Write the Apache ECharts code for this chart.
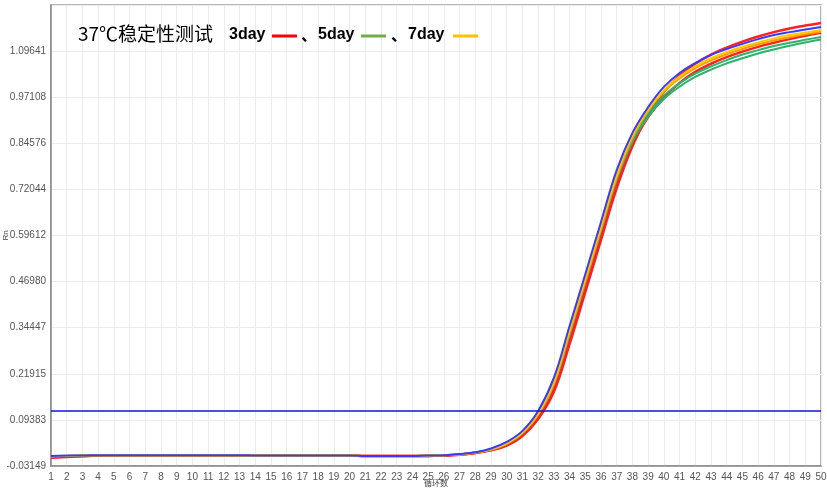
<!DOCTYPE html>
<html>
<head>
<meta charset="utf-8">
<script src="https://cdn.jsdelivr.net/npm/echarts@6/dist/echarts.min.js"></script>
<style>
html,body{margin:0;padding:0;background:#fff;}
#c{width:827px;height:491px;}
</style>
</head>
<body>
<div id="c"></div>
<script>
const cycles = ['1','2','3','4','5','6','7','8','9','10','11','12','13','14','15','16','17','18','19','20','21','22','23','24','25','26','27','28','29','30','31','32','33','34','35','36','37','38','39','40','41','42','43','44','45','46','47','48','49','50'];
const yTickLabels = ['-0.03149','0.09383','0.21915','0.34447','0.46980','0.59612','0.72044','0.84576','0.97108','1.09641',''];
const threshold = 0.118;

const red1 = [-0.009,-0.007,-0.005,-0.003,-0.002,-0.002,-0.002,-0.002,-0.002,-0.002,-0.002,-0.002,-0.002,-0.003,-0.003,-0.003,-0.003,-0.003,-0.003,-0.003,-0.004,-0.004,-0.004,-0.004,-0.004,-0.003,-0.001,0.004,0.011,0.024,0.050,0.096,0.170,0.300,0.441,0.583,0.724,0.838,0.923,0.985,1.030,1.062,1.087,1.106,1.122,1.136,1.148,1.158,1.166,1.173];
const red2 = [-0.008,-0.006,-0.004,-0.003,-0.002,-0.002,-0.002,-0.002,-0.002,-0.002,-0.002,-0.002,-0.002,-0.003,-0.003,-0.003,-0.003,-0.003,-0.003,-0.003,-0.004,-0.004,-0.004,-0.004,-0.004,-0.003,-0.001,0.004,0.012,0.026,0.053,0.100,0.178,0.310,0.452,0.594,0.733,0.842,0.917,0.970,1.010,1.040,1.062,1.080,1.095,1.108,1.119,1.129,1.138,1.146];
const blue = [-0.004,-0.003,-0.003,-0.002,-0.002,-0.002,-0.002,-0.002,-0.002,-0.002,-0.002,-0.002,-0.002,-0.003,-0.003,-0.003,-0.003,-0.003,-0.003,-0.003,-0.004,-0.004,-0.004,-0.004,-0.003,-0.002,0.001,0.006,0.016,0.034,0.064,0.118,0.208,0.349,0.490,0.632,0.773,0.874,0.944,0.999,1.037,1.064,1.086,1.102,1.116,1.129,1.140,1.148,1.155,1.162];
const orange = [-0.005,-0.004,-0.003,-0.002,-0.002,-0.002,-0.002,-0.002,-0.002,-0.002,-0.002,-0.002,-0.002,-0.003,-0.003,-0.003,-0.003,-0.003,-0.003,-0.003,-0.004,-0.004,-0.004,-0.004,-0.003,-0.002,0.000,0.005,0.013,0.029,0.058,0.108,0.192,0.330,0.470,0.612,0.752,0.860,0.934,0.986,1.022,1.050,1.071,1.088,1.102,1.115,1.125,1.134,1.142,1.149];
const yellow = [-0.005,-0.004,-0.003,-0.002,-0.002,-0.002,-0.002,-0.002,-0.002,-0.002,-0.002,-0.002,-0.002,-0.003,-0.003,-0.003,-0.003,-0.003,-0.003,-0.003,-0.004,-0.004,-0.004,-0.004,-0.003,-0.002,0.000,0.005,0.014,0.030,0.060,0.112,0.198,0.338,0.478,0.620,0.760,0.866,0.938,0.990,1.027,1.055,1.077,1.094,1.108,1.120,1.131,1.140,1.147,1.154];
const green1 = [-0.005,-0.004,-0.003,-0.002,-0.002,-0.002,-0.002,-0.002,-0.002,-0.002,-0.002,-0.002,-0.002,-0.003,-0.003,-0.003,-0.003,-0.003,-0.003,-0.003,-0.004,-0.004,-0.004,-0.004,-0.003,-0.002,0.000,0.005,0.013,0.029,0.057,0.107,0.189,0.325,0.466,0.607,0.746,0.850,0.918,0.966,1.000,1.026,1.046,1.063,1.077,1.090,1.101,1.111,1.120,1.128];
const green2 = [-0.005,-0.004,-0.003,-0.002,-0.002,-0.002,-0.002,-0.002,-0.002,-0.002,-0.002,-0.002,-0.002,-0.003,-0.003,-0.003,-0.003,-0.003,-0.003,-0.003,-0.004,-0.004,-0.004,-0.004,-0.003,-0.002,0.000,0.005,0.013,0.029,0.058,0.109,0.193,0.331,0.472,0.614,0.752,0.856,0.926,0.975,1.009,1.035,1.055,1.072,1.087,1.099,1.110,1.119,1.127,1.135];

const yMin = -0.03149, yInt = 0.12532, yMax = yMin + 10 * yInt;

function line(name, data, color, w) {
  return { name: name, type: 'line', data: data, symbol: 'none', smooth: 0.4,
    lineStyle: { color: color, width: w || 2 }, itemStyle: { color: color }, z: 3, silent: true, animation: false };
}

const chart = echarts.init(document.getElementById('c'));
const series = [
  line('red1', red1, '#ff2020', 2.5),
  line('red2', red2, '#ff2020', 2.5),
  line('green1', green1, '#2db36b'),
  line('green2', green2, '#2db36b'),
  line('orange', orange, '#ff9a00'),
  line('yellow', yellow, '#ffc800'),
  line('blue', blue, '#3a3aff')
];
series.push({
  type: 'line', data: [], symbol: 'none', silent: true, animation: false,
  markLine: { symbol: 'none', silent: true, animation: false, label: { show: false },
    lineStyle: { color: '#1010e0', width: 1.5, type: 'solid' },
    data: [{ yAxis: threshold }] }
});

const txtZ = 100;
chart.setOption({
  animation: false,
  backgroundColor: '#fff',
  grid: { left: 51, right: 6, top: 5, bottom: 25, containLabel: false, outerBoundsMode: 'none',
    show: true, borderColor: '#a0a0a0', borderWidth: 1.5, backgroundColor: 'transparent' },
  xAxis: {
    type: 'category', data: cycles, boundaryGap: false,
    name: '循环数', nameLocation: 'middle', nameGap: 13, nameMoveOverlap: false,
    nameTextStyle: { fontSize: 8, color: '#444', fontFamily: 'Noto Sans CJK SC' },
    axisLine: { onZero: false, lineStyle: { color: '#888', width: 1.5 } },
    axisTick: { show: false },
    axisLabel: { interval: 0, fontSize: 10, color: '#555', margin: 6, fontFamily: 'Liberation Sans' },
    splitLine: { show: true, lineStyle: { color: '#ececec', width: 1 } }
  },
  yAxis: {
    type: 'value', min: yMin, max: yMax, interval: yInt,
    name: 'Rn', nameLocation: 'middle', nameGap: 41, nameRotate: 90, nameMoveOverlap: false,
    nameTextStyle: { fontSize: 8, color: '#444' },
    axisLine: { show: true, onZero: false, lineStyle: { color: '#888', width: 1.5 } },
    axisTick: { show: false },
    axisLabel: { fontSize: 10, color: '#555', margin: 5, fontFamily: 'Liberation Sans',
      formatter: function (v) { const i = Math.round((v - yMin) / yInt); return yTickLabels[i] || ''; } },
    splitLine: { show: true, lineStyle: { color: '#ececec', width: 1 } }
  },
  graphic: [
    { type: 'text', z: txtZ, left: 78, top: 24, style: { text: '37℃稳定性测试', fontSize: 19, fill: '#000', fontFamily: 'Noto Sans CJK SC', fontWeight: 'normal' } },
    { type: 'text', z: txtZ, left: 229, top: 27, style: { text: '3day', fontSize: 16, fontWeight: 'bold', fill: '#000', fontFamily: 'Liberation Sans' } },
    { type: 'rect', z: txtZ, left: 272, top: 34.5, shape: { width: 25, height: 3 }, style: { fill: '#ff0000' } },
    { type: 'text', z: txtZ, left: 301, top: 27, style: { text: '、', fontSize: 16, fontWeight: 'bold', fill: '#000', fontFamily: 'Noto Sans CJK SC' } },
    { type: 'text', z: txtZ, left: 318, top: 27, style: { text: '5day', fontSize: 16, fontWeight: 'bold', fill: '#000', fontFamily: 'Liberation Sans' } },
    { type: 'rect', z: txtZ, left: 361, top: 34.5, shape: { width: 25, height: 3 }, style: { fill: '#70ad47' } },
    { type: 'text', z: txtZ, left: 391, top: 27, style: { text: '、', fontSize: 16, fontWeight: 'bold', fill: '#000', fontFamily: 'Noto Sans CJK SC' } },
    { type: 'text', z: txtZ, left: 408, top: 27, style: { text: '7day', fontSize: 16, fontWeight: 'bold', fill: '#000', fontFamily: 'Liberation Sans' } },
    { type: 'rect', z: txtZ, left: 453, top: 34.5, shape: { width: 25, height: 3 }, style: { fill: '#ffc000' } }
  ],
  series: series
});
</script>
</body>
</html>
